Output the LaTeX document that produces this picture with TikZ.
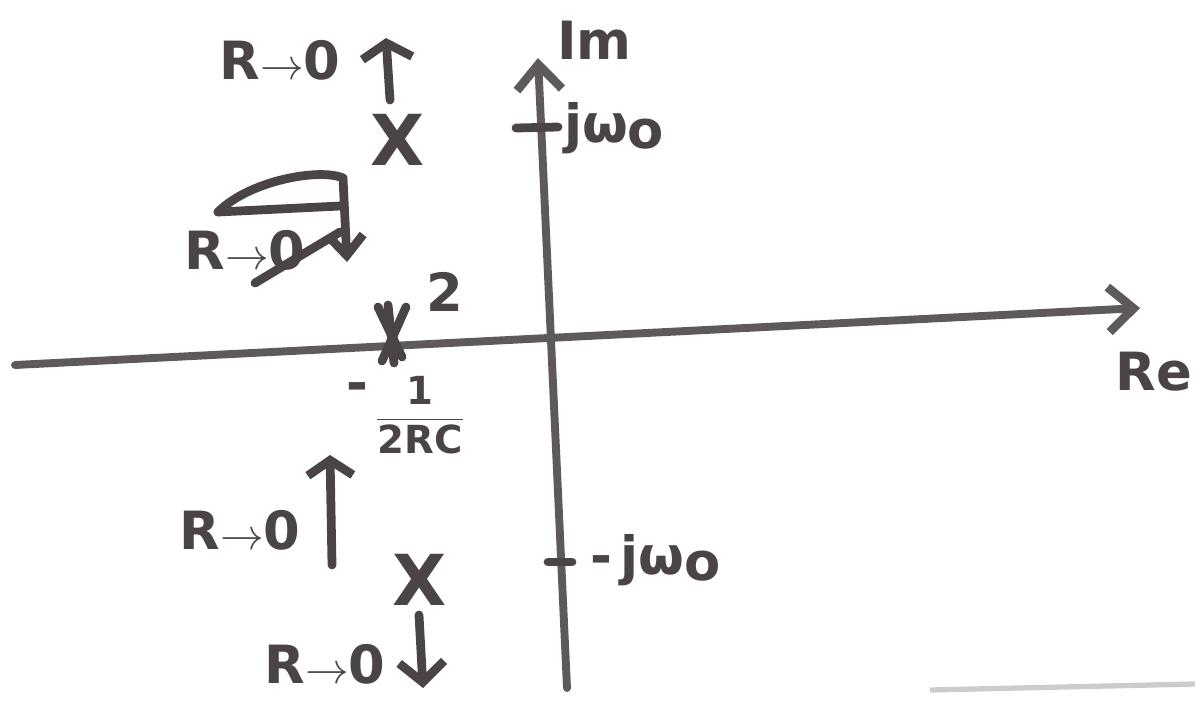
\documentclass[tikz,border=0pt]{standalone}
\usepackage{fontspec}
\setmainfont{DejaVu Sans}
\usetikzlibrary{arrows.meta}
\definecolor{ink}{HTML}{4A4448}
\definecolor{axis}{HTML}{5E5A5C}
\tikzset{
  lbl/.style={text=ink, font=\fontsize{30}{32}\selectfont\bfseries, inner sep=1pt},
  axisline/.style={draw=axis, line width=4.5pt, line cap=round},
  inkline/.style={draw=ink, line width=5pt, line cap=round, line join=round},
  barb/.style={-{Straight Barb[length=5mm,width=9mm,line width=5pt]}},
  pole/.style={text=ink, font=\fontsize{40}{40}\selectfont\bfseries, inner sep=0pt},
}
\begin{document}
\begin{tikzpicture}[x=0.02cm,y=-0.02cm]
\useasboundingbox (0,0) rectangle (1195,701);
% axes
\coordinate (reL) at (15,365);
\coordinate (reR) at (1140,308);
\coordinate (imB) at (567,688);
\coordinate (imT) at (538,58);
\draw[axisline,barb] (reL) -- (reR);
\draw[axisline,barb] (imB) -- (imT);
\node[lbl, anchor=east] (Re) at (1194,372) {Re};
\node[lbl, anchor=west] (Im) at (555,40) {Im};
% ticks
\coordinate (t1a) at (516,128); \coordinate (t1b) at (558,127);
\draw[inkline] (t1a) -- (t1b);
\node[lbl, anchor=west] (jw) at (562,128) {jω\raisebox{-0.2ex}{o}};
\coordinate (t2a) at (548,562); \coordinate (t2b) at (572,562);
\draw[inkline] (t2a) -- (t2b);
\node[lbl, anchor=west] (mjw) at (588,560) {-\,jω\raisebox{-0.2ex}{o}};
% poles
\node[pole] (p1) at (398,140) {X};
\node[pole] (p2) at (420,580) {X};
% double pole drawn as a star
\coordinate (dbl) at (392,335);
\draw[inkline] ([shift={(-14,-28)}]dbl) -- ([shift={(10,22)}]dbl);
\draw[inkline] ([shift={(14,-28)}]dbl) -- ([shift={(-10,26)}]dbl);
\draw[inkline] ([shift={(-4,-30)}]dbl) -- ([shift={(2,28)}]dbl);
\node[lbl] (two) at (445,292) {2};
\node[lbl, anchor=east] (minus) at (370,392) {-};
\node[lbl, font=\fontsize{22}{24}\selectfont\bfseries] (rc) at (420,415) {$\displaystyle\frac{\mathbf{1}}{\mathbf{2RC}}$};
% top label and arrow
\node[lbl] (l1) at (280,60) {R$\rightarrow$0};
\coordinate (a1s) at (390,100); \coordinate (a1e) at (386,38);
\draw[inkline,-{Straight Barb[length=3mm,width=10mm,line width=5pt]}] (a1s) -- (a1e);
% loop arrow
\node[lbl] (l2) at (245,250) {R$\rightarrow$0};
\coordinate (la) at (218,212);
\coordinate (lb) at (343,178);
\coordinate (lc) at (347,262);
\draw[inkline] (la) .. controls (250,180) and (320,168) .. (lb);
\draw[inkline,-{Straight Barb[length=4mm,width=7mm,line width=5pt]}] (lb) -- (lc);
\draw[inkline] (la) -- (340,206);
\draw[inkline] (255,283) -- (340,232);
% lower left label and arrow
\node[lbl] (l3) at (240,530) {R$\rightarrow$0};
\coordinate (a3s) at (332,565); \coordinate (a3e) at (330,455);
\draw[inkline,-{Straight Barb[length=3mm,width=9mm,line width=5pt]}] (a3s) -- (a3e);
% bottom label and arrow
\node[lbl] (l4) at (325,664) {R$\rightarrow$0};
\coordinate (a4s) at (419,615); \coordinate (a4e) at (423,688);
\draw[inkline,-{Straight Barb[length=4mm,width=9mm,line width=5pt]}] (a4s) -- (a4e);
% scan edge
\coordinate (s1) at (930,690); \coordinate (s2) at (1195,684);
\draw[draw=gray!40, line width=3pt] (s1) -- (s2);
\end{tikzpicture}
\end{document}
